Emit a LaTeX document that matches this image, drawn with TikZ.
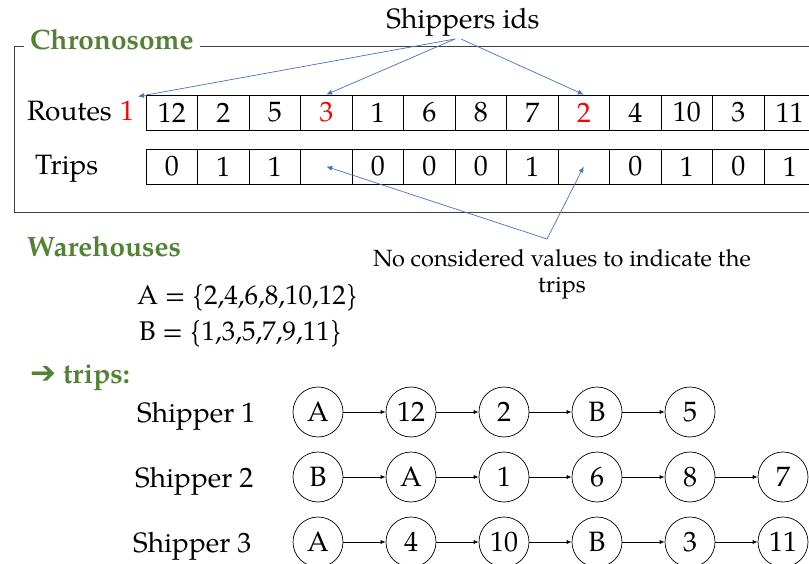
\documentclass[tikz,border=0pt]{standalone}
\usepackage{fontspec}
\setmainfont{TeX Gyre Pagella}
\newfontfamily\symbolfont{DejaVu Sans}
\usetikzlibrary{arrows.meta,positioning}

\definecolor{chromgreen}{RGB}{84,130,53}
\definecolor{pointerblue}{RGB}{68,114,196}

\tikzset{
  gene/.style={draw, line width=0.8pt, minimum width=51.5pt, minimum height=35pt, inner sep=0pt},
  visit/.style={draw, circle, line width=0.7pt, minimum size=50pt, inner sep=0pt},
  pointer/.style={pointerblue, line width=0.7pt, -{Latex[length=6pt,width=5pt]}},
  hop/.style={line width=0.7pt, -{Latex[length=5pt,width=4pt]}},
  heading/.style={chromgreen, font=\fontsize{28}{30}\selectfont\bfseries, anchor=base west, inner sep=0pt},
  label/.style={anchor=base west, inner sep=0pt}
}

\begin{document}
\begin{tikzpicture}[x=1pt, y=-1pt, font=\fontsize{28}{32}\selectfont]

	\useasboundingbox (0,0) rectangle (809,564);
	\clip (0,0) rectangle (809,564);

	% chromosome frame with its title
	\draw [line width=1pt, black!75] (14,46.5) rectangle (830,212.5);
	\node [heading, fill=white, inner xsep=6pt, inner ysep=2pt] (chrom) at (24,50) {Chronosome};

	% routes and trips rows
	\node [label] (routes) at (27,121) {Routes};
	\node [label, red] (first) at (120,121) {1};
	\foreach \v/\c [count=\i] in {12/black,2/black,5/black,3/red,1/black,6/black,8/black,7/black,2/red,4/black,10/black,3/black,11/black}
		\node [gene, text=\c] (r\i) at (120.25+51.5*\i, 112.5) {\v};

	\node [label] (trips) at (35,175) {Trips};
	\foreach \v [count=\i] in {0,1,1,{},0,0,0,1,{},0,1,0,1}
		\node [gene] (t\i) at (120.25+51.5*\i, 166.5) {\v};

	% shipper ids pointers
	\node (ids) at (463,22) {Shippers ids};
	\coordinate (idsL) at (455,39);
	\coordinate (idsR) at (461,39);
	\coordinate (routeStart) at (138,96.5);
	\draw [pointer] (idsL) -- (routeStart);
	\draw [pointer] (idsL) -- (r4.north);
	\draw [pointer] (idsR) -- (r9.north);

	% unused trip cells
	\node [font=\fontsize{23.5}{26}\selectfont, align=center, anchor=north, inner sep=0pt] (note) at (562,249) {No considered values to indicate the\\trips};
	\coordinate (noteTip) at (547,239);
	\draw [pointer] (noteTip) -- (t4.center);
	\draw [pointer] (noteTip) -- (t9.center);

	% warehouses
	\node [heading] (wh) at (27,257) {Warehouses};
	\node [label, font=\fontsize{27}{32}\selectfont] (setA) at (137,305) {A = \{2,4,6,8,10,12\}};
	\node [label, font=\fontsize{27}{32}\selectfont] (setB) at (139,341) {B = \{1,3,5,7,9,11\}};

	% trips of each shipper
	\node [heading] (tr) at (30,383) {{\symbolfont\fontsize{31}{30}\selectfont ➔} trips:};
	\foreach \row/\y/\n/\stops in {1/412/5/{A,12,2,B,5}, 2/477/6/{B,A,1,6,8,7}, 3/542/6/{A,4,10,B,3,11}} {
		\node [label] (ship\row) at (139-2*\row, \y+10) {Shipper \row};
		\foreach \s [count=\k] in \stops
			\node [visit] (s\row-\k) at (225+93*\k, \y) {\s};
		\foreach \k [evaluate=\k as \j using int(\k-1)] in {2,...,\n}
			\draw [hop] (s\row-\j) -- (s\row-\k);
	}

\end{tikzpicture}
\end{document}
